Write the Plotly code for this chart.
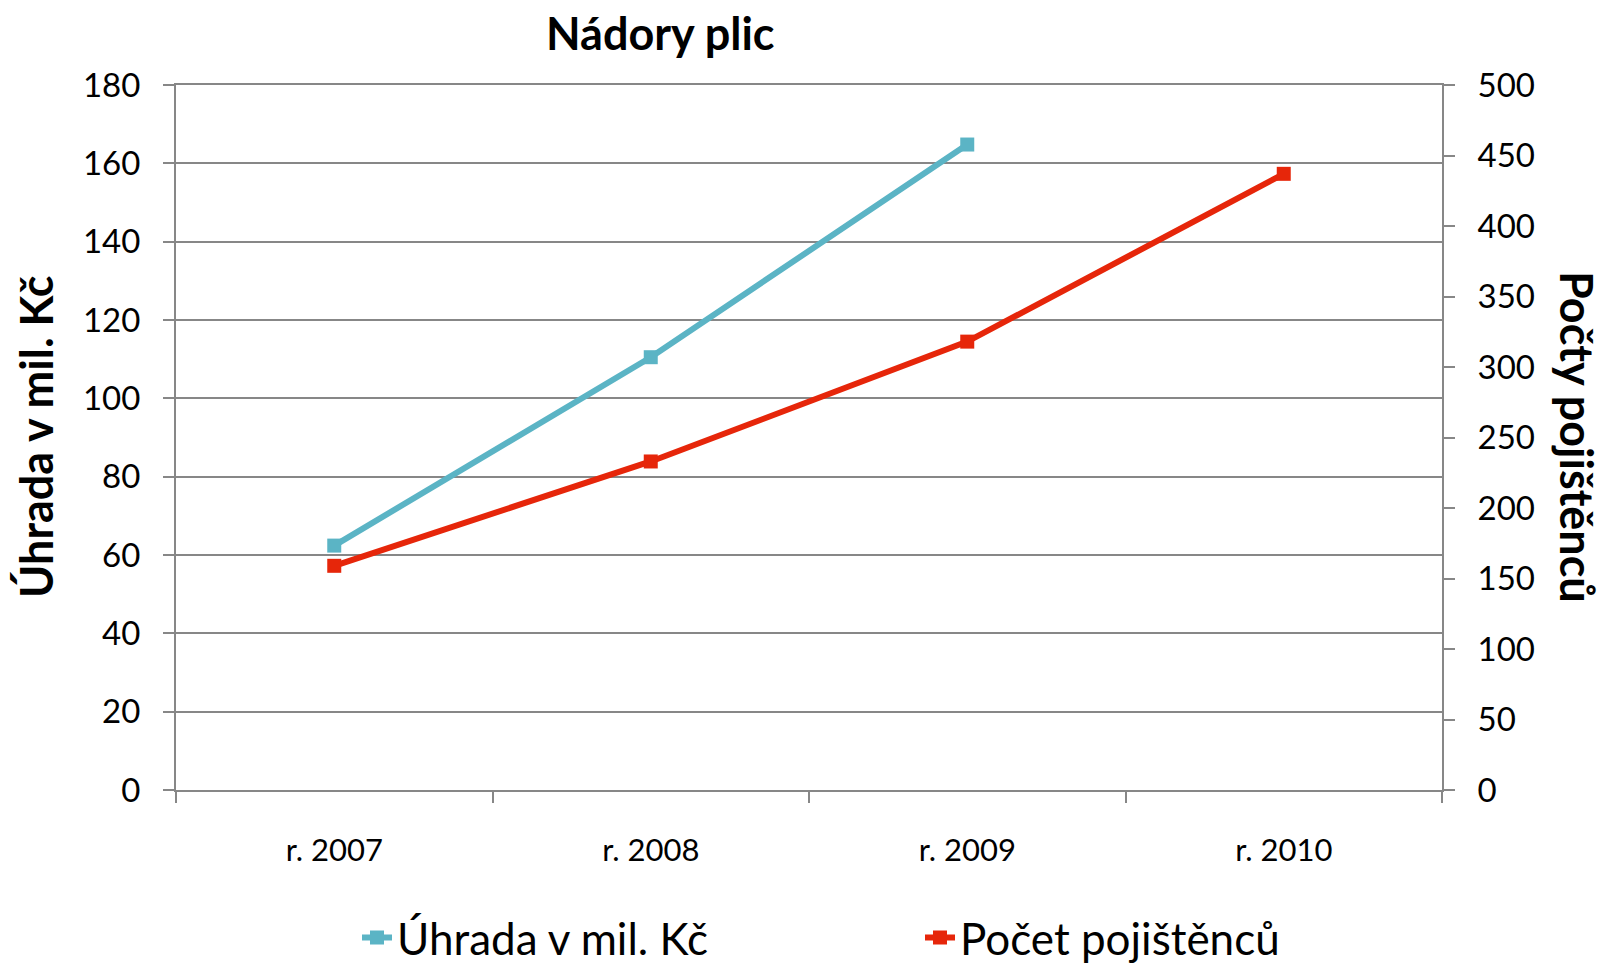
import plotly.graph_objects as go

categories = ["r. 2007", "r. 2008", "r. 2009", "r. 2010"]
uhrada = [62.4, 110.5, 164.8, None]
pojistenci = [159, 233, 318, 437]
left_ticks = [0, 20, 40, 60, 80, 100, 120, 140, 160, 180]
right_ticks = [0, 50, 100, 150, 200, 250, 300, 350, 400, 450, 500]

BLUE = "#5BB4C5"
RED = "#E6260A"
GRID = "#878787"
CAL = "Lato, 'Open Sans', sans-serif"
TICKFONT = dict(family=CAL, size=33, color="#000000")

W, H = 1605, 967
pl, pr, pt, pb = 176, 163, 85, 177
pw, ph = W - pl - pr, H - pt - pb
def px(x): return (x - pl) / pw
def py(y): return (H - pb - y) / ph

fig = go.Figure()
fig.add_trace(go.Scatter(
    x=categories, y=uhrada, name="Úhrada v mil. Kč", mode="lines+markers",
    line=dict(color=BLUE, width=6), marker=dict(symbol="square", size=14, color=BLUE),
    yaxis="y", connectgaps=False))
fig.add_trace(go.Scatter(
    x=categories, y=pojistenci, name="Počet pojištěnců", mode="lines+markers",
    line=dict(color=RED, width=6), marker=dict(symbol="square", size=14, color=RED),
    yaxis="y2"))

fig.update_layout(
    width=W, height=H,
    margin=dict(l=pl, r=pr, t=pt, b=pb, autoexpand=False),
    paper_bgcolor="white", plot_bgcolor="white",
    showlegend=True,
    legend=dict(orientation="h", x=px(357), xanchor="left", y=py(938), yanchor="middle",
                font=dict(family=CAL, size=44, color="#000000"),
                entrywidth=518, entrywidthmode="pixels", itemwidth=30,
                bgcolor="rgba(0,0,0,0)"),
    xaxis=dict(type="category", range=[-0.5, 3.5], showgrid=False, automargin=False,
               showline=True, linecolor=GRID, linewidth=2, mirror=True,
               ticks="outside", tickson="boundaries", ticklen=11, tickcolor=GRID, tickwidth=2,
               tickfont=dict(family=CAL, size=31, color="#000000"), ticklabelstandoff=32),
    yaxis=dict(range=[0, 180], tickvals=left_ticks, showgrid=True, gridcolor=GRID, gridwidth=2,
               showline=True, linecolor=GRID, linewidth=2, zeroline=False, automargin=False,
               ticks="outside", ticklen=11, tickcolor=GRID, tickwidth=2,
               tickfont=TICKFONT, ticklabelstandoff=16),
    yaxis2=dict(range=[0, 500], tickvals=right_ticks, overlaying="y", side="right",
                showgrid=False, showline=True, linecolor=GRID, linewidth=2, zeroline=False,
                automargin=False,
                ticks="outside", ticklen=11, tickcolor=GRID, tickwidth=2,
                tickfont=TICKFONT, ticklabelstandoff=16),
)
ann = dict(xref="paper", yref="paper", xanchor="center", yanchor="middle", showarrow=False,
           font=dict(family=CAL, size=45, color="#000000"))
fig.add_annotation(text="<b>Nádory plic</b>", x=px(660), y=py(33), **ann)
fig.add_annotation(text="<b>Úhrada v mil. Kč</b>", x=px(36), y=py(437), textangle=-90, **ann)
fig.add_annotation(text="<b>Počty pojištěnců</b>", x=px(1577), y=py(437), textangle=90, **ann)

fig.write_html("out.html", config={"displayModeBar": False},
               post_script="document.body.style.margin='0';document.body.style.overflow='hidden';")
